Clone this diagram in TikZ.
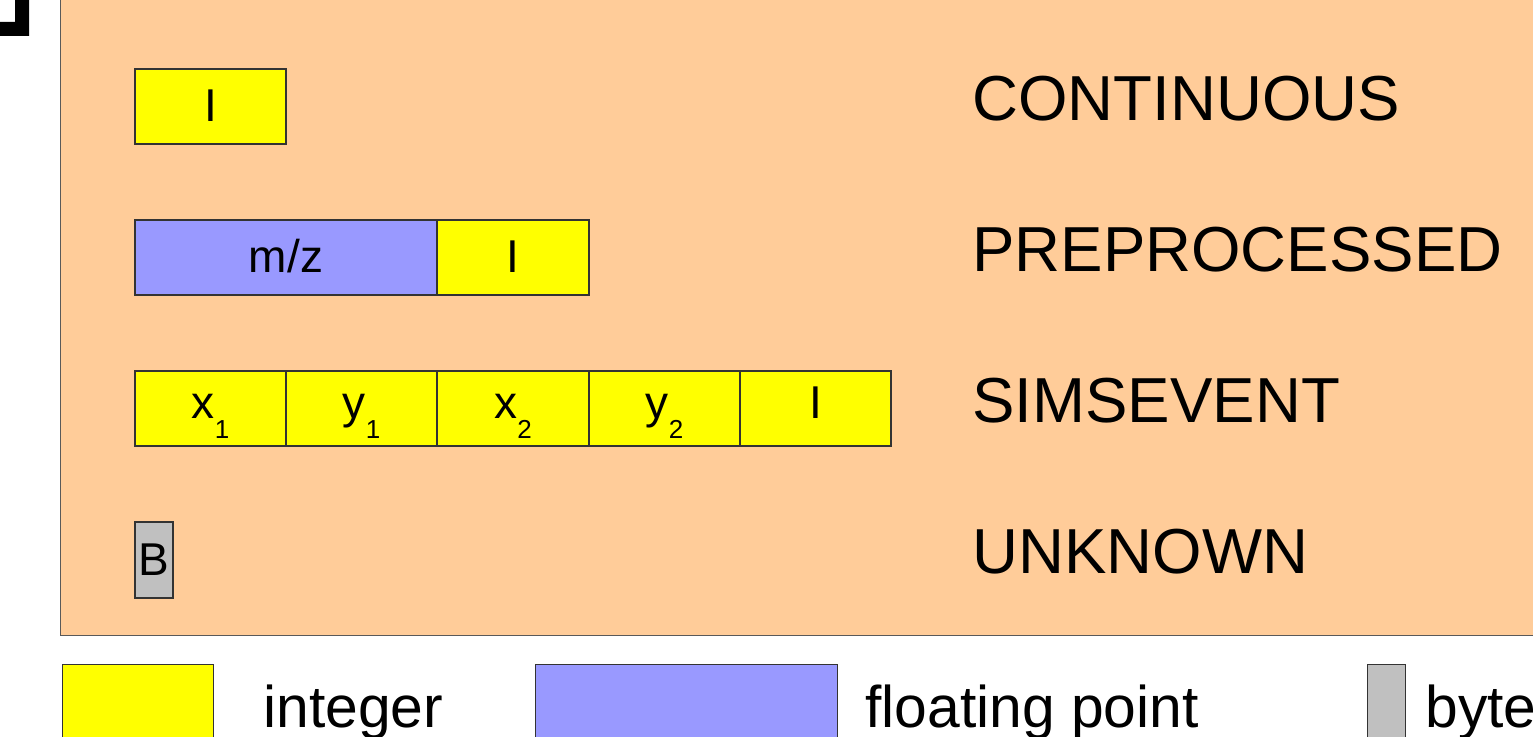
\documentclass[tikz,border=0pt]{standalone}
\usepackage{fontspec}
\setmainfont{Liberation Sans}
\definecolor{panel}{HTML}{FFCC99}
\definecolor{intc}{HTML}{FFFF00}
\definecolor{fltc}{HTML}{9999FF}
\definecolor{bytc}{HTML}{C0C0C0}
\definecolor{edge}{HTML}{333333}
\newcommand{\sbx}[2]{#1\raisebox{-10pt}{\fontsize{13}{13}\selectfont #2}}
\tikzset{
  cell/.style={draw=edge, line width=0.6pt, inner sep=0pt, minimum height=37.5pt,
    font=\fontsize{23}{23}\selectfont, text height=15.5pt, text depth=0pt, anchor=center},
  intcell/.style={cell, fill=intc},
  fltcell/.style={cell, fill=fltc},
  bytcell/.style={cell, fill=bytc},
  lowcell/.style={text height=10pt},
  rowlabel/.style={anchor=base west, inner sep=0pt, font=\fontsize{31.8}{31.8}\selectfont},
  leglabel/.style={anchor=base west, inner sep=0pt, font=\fontsize{29.4}{29.4}\selectfont},
  legbox/.style={draw=edge, line width=0.5pt, inner sep=0pt, minimum height=50pt, anchor=north west}
}
\begin{document}
\begin{tikzpicture}[x=0.5pt, y=-0.5pt]
\useasboundingbox (0,0) rectangle (1533,737);
\clip (0,0) rectangle (1533,737);
\fill[white] (0,0) rectangle (1533,737);
% corner mark
\fill[black] (0,22) -- (15,22) -- (15,0) -- (29,0) -- (29,36) -- (0,36) -- cycle;
% panel
\node[draw=black!65, fill=panel, line width=0.5pt, inner sep=0pt, anchor=north west,
      minimum width=750pt, minimum height=322.5pt] (panel) at (60,-10) {};
% row 1
\node[intcell, minimum width=75.5pt] (c1) at (210.5,106.5) {I};
% row 2
\node[fltcell, minimum width=151pt] (p1) at (286,257.5) {m/z};
\node[intcell, minimum width=76pt] (p2) at (513,257.5) {I};
% row 3
\node[intcell, lowcell, minimum width=75.5pt] (s1) at (210.5,408.5) {\sbx{x}{1}};
\node[intcell, lowcell, minimum width=75.5pt] (s2) at (361.5,408.5) {\sbx{y}{1}};
\node[intcell, lowcell, minimum width=76pt] (s3) at (513,408.5) {\sbx{x}{2}};
\node[intcell, lowcell, minimum width=75.5pt] (s4) at (664.5,408.5) {\sbx{y}{2}};
\node[intcell, lowcell, minimum width=75.5pt] (s5) at (815.5,408.5) {I};
% row 4
\node[bytcell, minimum width=19pt, minimum height=38pt] (u1) at (154,560) {B};
% row labels
\node[rowlabel] (l1) at (972,121) {CONTINUOUS};
\node[rowlabel] (l2) at (972,272) {PREPROCESSED};
\node[rowlabel] (l3) at (972,423) {SIMSEVENT};
\node[rowlabel] (l4) at (972,574) {UNKNOWN};
% legend
\node[legbox, fill=intc, minimum width=75.5pt] (k1) at (62,664) {};
\node[leglabel] (t1) at (263,727) {integer};
\node[legbox, fill=fltc, minimum width=151pt] (k2) at (535,664) {};
\node[leglabel] (t2) at (865,727) {floating point};
\node[legbox, fill=bytc, minimum width=19pt] (k3) at (1367,664) {};
\node[leglabel] (t3) at (1425,727) {byte};
\end{tikzpicture}
\end{document}
